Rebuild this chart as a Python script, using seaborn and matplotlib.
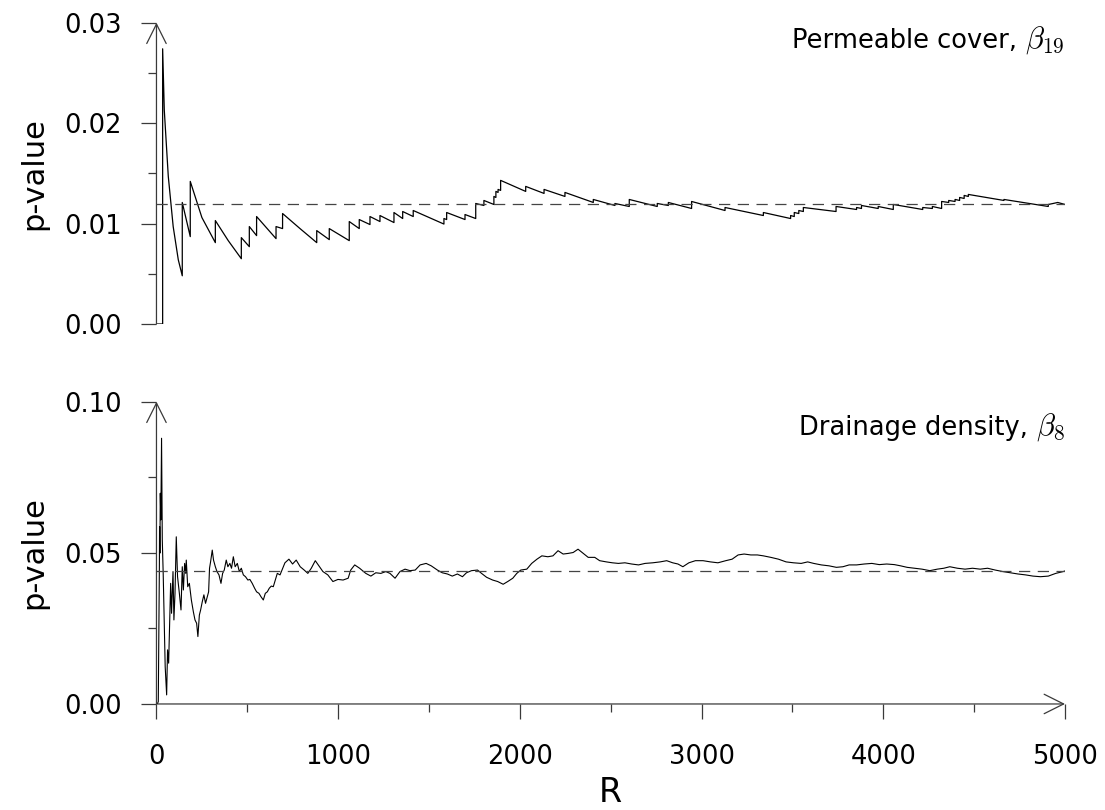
import numpy as np
import pandas as pd
import seaborn as sns
import matplotlib.pyplot as plt
from matplotlib.ticker import MultipleLocator, FormatStrFormatter
from matplotlib.transforms import offset_copy

# permeable cover, beta_19 -- running p-value vs number of replicates R
perm_R = [0, 34, 34, 43, 65, 92, 120, 142,
          142, 186, 186, 250, 324,
          324, 395, 467, 467, 511, 511, 551, 551, 658,
          658, 694, 694, 790, 882, 882, 951, 951, 1061,
          1061, 1116, 1116, 1175, 1175, 1230, 1230, 1307,
          1307, 1355, 1355, 1413, 1413, 1582, 1582, 1597, 1597, 1698,
          1698, 1757, 1757, 1802, 1802, 1857, 1857, 1868, 1868, 1880, 1880, 1894, 1894,
          2032, 2032, 2133, 2133, 2248, 2248, 2404, 2404, 2523, 2523, 2602, 2602, 2756,
          2756, 2817, 2817, 2945, 2945, 3129, 3129, 3340, 3340, 3490,
          3490, 3510, 3510, 3535, 3535, 3560, 3560, 3740, 3740, 3853, 3853, 3880, 3880,
          3972, 3972, 4055, 4055, 4217, 4217, 4270, 4270, 4321, 4321, 4360, 4360,
          4395, 4395, 4420, 4420, 4445, 4445, 4468, 4468, 4664, 4664, 4908, 4908,
          4935, 4960, 5000]
perm_p = [0, 0, 0.0274, 0.0213, 0.0147, 0.0097, 0.0064, 0.0048,
          0.0121, 0.0087, 0.0142, 0.0106, 0.0081,
          0.0103, 0.0083, 0.0065, 0.0086, 0.0077, 0.0097, 0.0088, 0.0107, 0.0085,
          0.0097, 0.0095, 0.0110, 0.0095, 0.0081, 0.0093, 0.0084, 0.0095, 0.0083,
          0.0102, 0.0095, 0.0104, 0.0099, 0.0107, 0.0102, 0.0108, 0.0101,
          0.0111, 0.0105, 0.0112, 0.0107, 0.0113, 0.00995, 0.0105, 0.0104, 0.0111, 0.0104,
          0.0109, 0.0105, 0.0120, 0.0118, 0.0123, 0.0119, 0.0127, 0.0126, 0.0132, 0.0131, 0.0134, 0.0133, 0.0143,
          0.0132, 0.0137, 0.0130, 0.0134, 0.0127, 0.0131, 0.0121, 0.0124, 0.0118, 0.0120, 0.0117, 0.0124, 0.0117,
          0.0120, 0.0118, 0.0121, 0.0115, 0.0122, 0.0113, 0.0116, 0.0108, 0.0111, 0.0105,
          0.0108, 0.0107, 0.0111, 0.0110, 0.0113, 0.0112, 0.0116, 0.0112, 0.0117, 0.0114, 0.0116, 0.0115, 0.0118,
          0.0115, 0.0117, 0.0114, 0.0119, 0.0114, 0.0116, 0.0115, 0.0117, 0.0115, 0.0122, 0.0121, 0.0123,
          0.0122, 0.0124, 0.0123, 0.0126, 0.0125, 0.0128, 0.0127, 0.0129, 0.0123, 0.0124, 0.0117, 0.0119,
          0.0120, 0.0121, 0.0119]
perm_ref = 0.0119

# drainage density, beta_8
drain_R = [0, 5, 10, 14, 16, 17, 19, 21, 24, 28, 32, 37, 43, 48, 56, 61, 67, 72, 78, 83,
           91, 96, 102, 109, 116, 126, 135, 142, 148, 155, 161, 164, 172, 181, 192, 203,
           212, 221, 228, 236, 243, 252, 261, 270, 280, 287, 292, 298, 307, 314, 324, 333,
           344, 355, 364, 373, 384, 393, 404, 413, 423, 433, 445, 456, 467, 478, 490, 503,
           514, 527, 540, 551, 564, 575, 588, 599, 610, 621, 632, 643, 654, 665,
           680, 707, 729, 749, 769, 791, 813, 833, 852, 874, 897, 916, 943, 971, 999, 1027,
           1055, 1069, 1091, 1118, 1152, 1180, 1207, 1235, 1262, 1285, 1313, 1340, 1368, 1395,
           1424, 1451, 1484, 1512, 1546, 1573, 1601, 1628, 1656, 1684, 1706, 1734, 1767, 1789,
           1817, 1850, 1878, 1908, 1933, 1961, 1983, 2005, 2038, 2065, 2094, 2121, 2154, 2182,
           2210, 2238, 2265, 2293, 2320, 2349, 2376, 2412, 2439, 2476, 2509, 2542, 2578, 2615,
           2653, 2689, 2731, 2772, 2808, 2841, 2870, 2897, 2930, 2966, 3008, 3049, 3090, 3133,
           3168, 3201, 3234, 3271, 3307, 3340, 3381, 3423, 3465, 3506, 3548, 3584, 3617, 3659,
           3701, 3742, 3778, 3812, 3853, 3895, 3937, 3978, 4019, 4061, 4095, 4131, 4172, 4213,
           4256, 4297, 4333, 4366, 4408, 4450, 4491, 4533, 4574, 4616, 4658, 4699, 4741, 4783,
           4824, 4865, 4908, 4949, 4990, 5000]
drain_p = [0, 0, 0.0008, 0.0289, 0.0454, 0.0587, 0.0499, 0.0697, 0.0609, 0.0879, 0.0543, 0.0432,
           0.0256, 0.0123, 0.0030, 0.0179, 0.0135, 0.0256, 0.0399, 0.0300,
           0.0438, 0.0278, 0.0366, 0.0553, 0.0421, 0.0366, 0.0311, 0.0454, 0.0377, 0.0465, 0.0432,
           0.0476, 0.0388, 0.0399, 0.0344, 0.0305,
           0.0278, 0.0267, 0.0223, 0.0294, 0.0311, 0.0338, 0.0361, 0.0333, 0.0355, 0.0371, 0.0449,
           0.0471, 0.0509, 0.0476, 0.0454, 0.0438,
           0.0427, 0.0399, 0.0432, 0.0443, 0.0476, 0.0454, 0.0465, 0.0449, 0.0487, 0.0454, 0.0465,
           0.0438, 0.0449, 0.0427, 0.0421, 0.0410,
           0.0412, 0.0399, 0.0383, 0.0371, 0.0366, 0.0355, 0.0344, 0.0366, 0.0371, 0.0383, 0.0390,
           0.0388, 0.0410, 0.0432,
           0.0427, 0.0467, 0.0479, 0.0463, 0.0476, 0.0454, 0.0443, 0.0432, 0.0449, 0.0474, 0.0454,
           0.0438, 0.0427, 0.0405, 0.0412, 0.0410,
           0.0416, 0.0443, 0.0460, 0.0449, 0.0432, 0.0423, 0.0434, 0.0432, 0.0438, 0.0432, 0.0416,
           0.0438, 0.0446, 0.0441,
           0.0443, 0.0460, 0.0465, 0.0457, 0.0443, 0.0434, 0.0430, 0.0423, 0.0430, 0.0421, 0.0434,
           0.0441, 0.0443, 0.0432,
           0.0419, 0.0410, 0.0405, 0.0396, 0.0405, 0.0416, 0.0432, 0.0443, 0.0446, 0.0465, 0.0479,
           0.0490, 0.0487, 0.0490,
           0.0507, 0.0496, 0.0498, 0.0501, 0.0512, 0.0498, 0.0485, 0.0485, 0.0474, 0.0470, 0.0467,
           0.0465, 0.0467, 0.0463,
           0.0460, 0.0465, 0.0467, 0.0470, 0.0474, 0.0467, 0.0463, 0.0454, 0.0467, 0.0474, 0.0474,
           0.0470, 0.0467, 0.0474,
           0.0479, 0.0493, 0.0496, 0.0493, 0.0493, 0.0490, 0.0485, 0.0479, 0.0470, 0.0467, 0.0465,
           0.0470, 0.0465, 0.0460,
           0.0457, 0.0452, 0.0454, 0.0460, 0.0460, 0.0463, 0.0465, 0.0461, 0.0463, 0.0461, 0.0457,
           0.0452, 0.0449, 0.0446,
           0.0441, 0.0446, 0.0449, 0.0454, 0.0449, 0.0446, 0.0449, 0.0446, 0.0449, 0.0443, 0.0438,
           0.0434, 0.0430, 0.0427,
           0.0423, 0.0421, 0.0423, 0.0432, 0.0438, 0.0440]
drain_ref = 0.0440

sns.set_style("white")
plt.rcParams["font.family"] = ["DejaVu Sans"]
plt.rcParams["mathtext.fontset"] = "cm"
plt.rcParams["text.color"] = "black"
plt.rcParams["axes.labelcolor"] = "black"

axis_col = "#3a3a3a"
fig = plt.figure(figsize=(11.05, 8.10), dpi=100)
ax1 = fig.add_axes([0.1416, 0.6, 0.8222, 0.372])
ax2 = fig.add_axes([0.1416, 0.1309, 0.8222, 0.3732])


def arrow(ax, start, end):
    ax.annotate("", xy=end, xytext=start, xycoords="axes fraction",
                textcoords="axes fraction", annotation_clip=False,
                arrowprops=dict(arrowstyle="->,head_length=1.4,head_width=0.7",
                                lw=0.9, color=axis_col, shrinkA=0, shrinkB=0,
                                mutation_scale=10))


def style_axes(ax, ymax, major, minor, name, sym, title_y, show_x):
    for s in ax.spines.values():
        s.set_visible(False)
    ax.set_xlim(0, 5000)
    ax.set_ylim(0, ymax)
    ax.yaxis.set_major_locator(MultipleLocator(major))
    ax.yaxis.set_minor_locator(MultipleLocator(minor))
    ax.yaxis.set_major_formatter(FormatStrFormatter("%.2f"))
    ax.tick_params(axis="y", which="major", left=True, length=11, width=0.9,
                   color=axis_col, labelcolor="black", labelsize=18.5, pad=14)
    ax.tick_params(axis="y", which="minor", left=True, length=5.5, width=0.9,
                   color=axis_col)
    ax.set_ylabel("p-value", fontsize=22)
    ax.yaxis.set_label_coords(-0.119, 0.5)
    arrow(ax, (0, 0), (0, 1))
    # symbol part drawn a bit larger, name placed just left of it
    s = ax.text(1.0, title_y, sym, transform=ax.transAxes, ha="right",
                va="baseline", fontsize=22)
    fig.canvas.draw()
    w = s.get_window_extent().width * 72 / fig.dpi
    ax.text(1.0, title_y, name,
            transform=offset_copy(ax.transAxes, fig=fig, x=-w - 6, units="points"),
            ha="right", va="baseline", fontsize=18.5)
    if show_x:
        ax.xaxis.set_major_locator(MultipleLocator(1000))
        ax.xaxis.set_minor_locator(MultipleLocator(500))
        ax.tick_params(axis="x", which="major", bottom=True, length=11, width=0.9,
                       color=axis_col, labelcolor="black", labelsize=18.5, pad=18)
        ax.tick_params(axis="x", which="minor", bottom=True, length=6, width=0.9,
                       color=axis_col)
        ax.set_xlabel("R", fontsize=24, labelpad=4)
        arrow(ax, (0, 0), (1, 0))
    else:
        ax.tick_params(axis="x", bottom=False, labelbottom=False)
        ax.set_xlabel("")


sns.lineplot(x=perm_R, y=perm_p, ax=ax1, color="black", lw=0.9,
             estimator=None, sort=False)
ax1.axhline(perm_ref, color="#444444", lw=0.9, ls=(0, (9, 6)))
style_axes(ax1, 0.03, 0.01, 0.005, "Permeable cover,", r"$\beta_{19}$", 0.916, False)

sns.lineplot(x=drain_R, y=drain_p, ax=ax2, color="black", lw=0.8,
             estimator=None, sort=False)
ax2.axhline(drain_ref, color="#444444", lw=0.9, ls=(0, (9, 6)))
style_axes(ax2, 0.10, 0.05, 0.025, "Drainage density,", r"$\beta_8$", 0.89, True)

fig.savefig("out.png", dpi=100)
